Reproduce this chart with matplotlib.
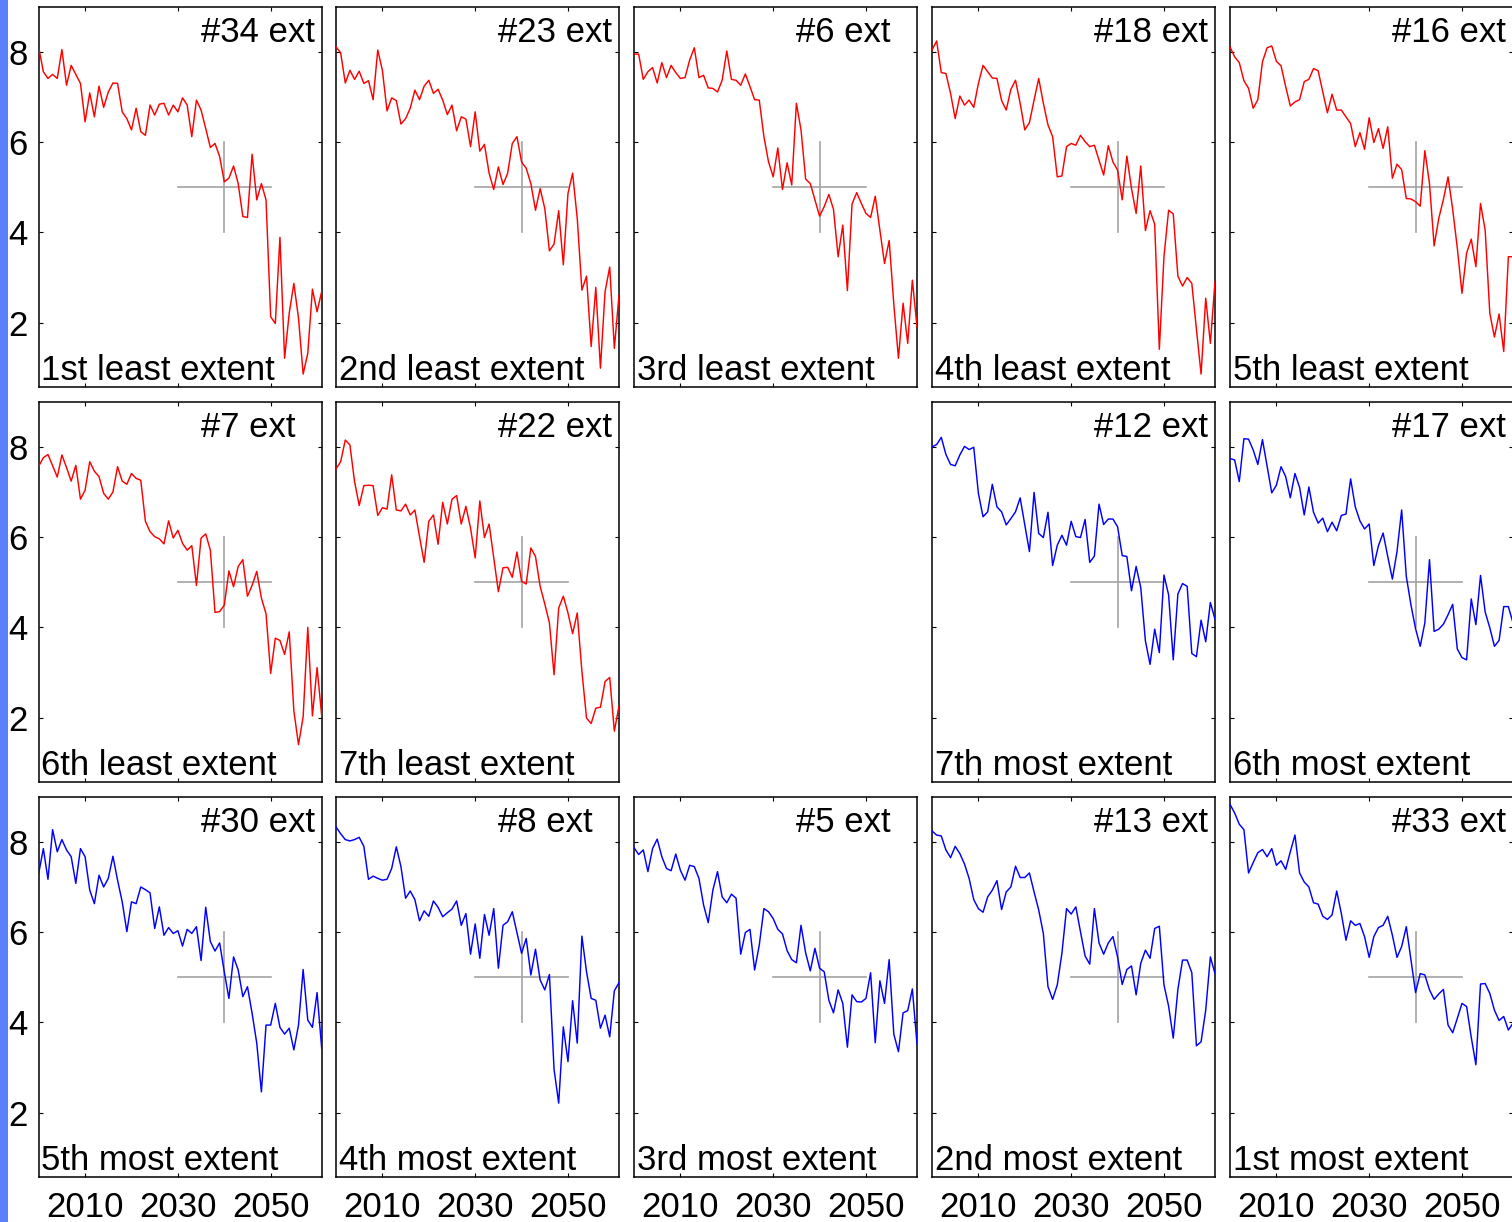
import numpy as np
import matplotlib
matplotlib.use("Agg")
import matplotlib.pyplot as plt
from matplotlib.patches import Rectangle

plt.rcParams['font.family'] = ['Liberation Sans', 'DejaVu Sans']

# ---------------- data ----------------
start_year = 2000
x_ticks = [2010, 2030, 2050]
y_ticks = [2, 4, 6, 8]

ext_34 = [8.10, 7.56, 7.41, 7.50, 7.41, 8.05, 7.26, 7.70, 7.50, 7.30,
          6.45, 7.09, 6.56, 7.24, 6.77, 7.11, 7.31, 7.30, 6.67, 6.52,
          6.27, 6.75, 6.23, 6.15, 6.82, 6.60, 6.84, 6.86, 6.60, 6.82,
          6.67, 6.98, 6.82, 6.12, 6.93, 6.71, 6.30, 5.88, 5.97, 5.68,
          5.12, 5.20, 5.47, 5.08, 4.35, 4.33, 5.73, 4.72, 5.08, 4.72,
          2.13, 1.98, 3.89, 1.21, 2.21, 2.87, 2.10, 0.86, 1.32, 2.74,
          2.24, 2.69]
ext_23 = [8.11, 7.98, 7.31, 7.59, 7.39, 7.57, 7.30, 7.36, 6.94, 8.04,
          7.59, 6.69, 6.98, 6.92, 6.40, 6.52, 6.75, 7.15, 6.94, 7.24,
          7.37, 7.08, 7.17, 6.93, 6.61, 6.82, 6.25, 6.56, 6.51, 5.90,
          6.67, 5.80, 5.95, 5.31, 4.95, 5.45, 5.06, 5.31, 5.97, 6.12,
          5.56, 5.42, 5.08, 4.49, 4.97, 4.53, 3.59, 3.74, 4.48, 3.28,
          4.86, 5.31, 4.31, 2.72, 3.03, 1.47, 2.78, 0.99, 2.69, 3.23,
          1.43, 2.61]
ext_6 = [7.95, 7.95, 7.39, 7.56, 7.65, 7.31, 7.76, 7.43, 7.70, 7.54,
         7.41, 7.43, 7.82, 8.09, 7.43, 7.48, 7.20, 7.19, 7.11, 7.37,
         8.02, 7.39, 7.37, 7.26, 7.51, 7.23, 6.94, 6.93, 6.12, 5.56,
         5.23, 5.87, 4.95, 5.54, 5.05, 6.86, 6.27, 5.18, 5.08, 4.72,
         4.36, 4.57, 4.84, 4.51, 3.46, 4.16, 2.71, 4.63, 4.88, 4.64,
         4.42, 4.33, 4.80, 4.05, 3.31, 3.82, 2.41, 1.21, 2.43, 1.54,
         2.94, 1.91]
ext_18 = [8.04, 8.24, 7.54, 7.52, 7.08, 6.52, 7.02, 6.82, 6.93, 6.77,
          7.30, 7.70, 7.56, 7.42, 7.41, 6.92, 6.71, 7.17, 7.37, 6.86,
          6.27, 6.43, 6.93, 7.41, 6.86, 6.38, 6.12, 5.23, 5.25, 5.90,
          5.97, 5.93, 6.15, 6.01, 5.90, 5.93, 5.60, 5.27, 5.92, 5.56,
          5.38, 4.72, 5.69, 4.97, 4.42, 5.47, 4.04, 4.48, 4.18, 1.41,
          3.46, 4.49, 4.41, 3.03, 2.81, 3.00, 2.87, 1.85, 0.86, 2.54,
          1.54, 2.91]
ext_16 = [8.11, 7.89, 7.76, 7.36, 7.19, 6.75, 6.94, 7.78, 8.09, 8.13,
          7.79, 7.69, 7.23, 6.80, 6.89, 6.94, 7.34, 7.39, 7.63, 7.58,
          7.11, 6.65, 7.06, 6.71, 6.71, 6.56, 6.41, 5.90, 6.21, 5.84,
          6.54, 5.99, 6.30, 5.86, 6.34, 5.20, 5.51, 5.39, 4.75, 4.74,
          4.68, 4.58, 5.81, 5.08, 3.70, 4.31, 4.73, 5.23, 4.51, 3.65,
          2.65, 3.54, 3.85, 3.24, 4.64, 4.05, 2.21, 1.68, 2.19, 1.36,
          3.46, 3.46]
ext_7 = [7.57, 7.76, 7.83, 7.58, 7.33, 7.82, 7.54, 7.24, 7.59, 6.84,
         7.04, 7.67, 7.46, 7.34, 6.97, 6.84, 7.00, 7.56, 7.24, 7.17,
         7.41, 7.30, 7.26, 6.35, 6.12, 6.01, 5.96, 5.85, 6.36, 5.98,
         6.15, 5.86, 5.71, 5.81, 4.93, 5.98, 6.07, 5.71, 4.33, 4.35,
         4.49, 5.25, 4.90, 5.35, 5.50, 4.69, 4.93, 5.24, 4.65, 4.30,
         2.98, 3.76, 3.71, 3.40, 3.90, 2.15, 1.40, 2.02, 4.00, 2.04,
         3.11, 2.04]
ext_22 = [7.51, 7.67, 8.15, 8.04, 7.23, 6.70, 7.14, 7.15, 7.14, 6.48,
          6.65, 6.62, 7.38, 6.60, 6.58, 6.73, 6.49, 6.60, 6.01, 5.44,
          6.35, 6.49, 5.84, 6.77, 6.29, 6.84, 6.92, 6.29, 6.68, 6.20,
          5.54, 6.80, 5.99, 6.29, 5.54, 4.79, 5.32, 5.33, 5.11, 5.67,
          5.02, 4.96, 5.76, 5.57, 4.91, 4.52, 4.10, 2.95, 4.43, 4.69,
          4.32, 3.86, 4.32, 3.03, 1.99, 1.87, 2.21, 2.23, 2.80, 2.89,
          1.70, 2.26]
ext_12 = [8.00, 8.05, 8.21, 7.83, 7.61, 7.58, 7.82, 8.01, 7.94, 7.99,
          6.97, 6.45, 6.56, 7.17, 6.67, 6.56, 6.27, 6.41, 6.56, 6.87,
          6.27, 5.68, 6.99, 6.08, 5.99, 6.55, 5.37, 5.82, 6.04, 5.82,
          6.35, 6.01, 5.99, 6.39, 5.44, 5.58, 6.73, 6.28, 6.40, 6.40,
          6.23, 5.59, 5.57, 4.81, 5.35, 4.88, 3.70, 3.18, 3.96, 3.44,
          5.16, 4.72, 3.28, 4.74, 4.97, 4.91, 3.42, 3.35, 4.16, 3.68,
          4.55, 4.18]
ext_17 = [7.74, 7.71, 7.23, 8.18, 8.17, 7.93, 7.61, 8.16, 7.57, 6.98,
          7.15, 7.56, 7.34, 6.87, 7.41, 7.10, 6.49, 7.11, 6.55, 6.31,
          6.42, 6.12, 6.33, 6.14, 6.48, 6.51, 7.29, 6.67, 6.36, 6.18,
          6.29, 5.37, 5.81, 6.09, 5.57, 5.07, 5.68, 6.60, 5.13, 4.50,
          3.97, 3.58, 4.10, 5.50, 3.91, 3.96, 4.07, 4.28, 4.51, 3.52,
          3.33, 3.28, 4.63, 4.06, 5.15, 4.34, 3.99, 3.58, 3.71, 4.46,
          4.46, 4.10]
ext_30 = [7.30, 7.85, 7.17, 8.27, 7.78, 8.05, 7.82, 7.67, 7.08, 7.85,
          7.67, 6.93, 6.63, 7.26, 7.00, 7.19, 7.68, 7.15, 6.67, 6.01,
          6.67, 6.63, 7.00, 6.94, 6.87, 6.08, 6.56, 5.93, 6.10, 5.97,
          6.03, 5.69, 6.06, 5.97, 6.12, 5.37, 6.55, 5.79, 5.58, 5.76,
          5.12, 4.53, 5.45, 5.16, 4.57, 4.79, 4.20, 3.54, 2.46, 3.94,
          3.94, 4.42, 3.89, 3.74, 3.87, 3.39, 3.94, 5.17, 4.05, 3.89,
          4.66, 3.42]
ext_8 = [8.33, 8.18, 8.05, 8.02, 8.05, 8.10, 7.90, 7.17, 7.24, 7.19,
         7.15, 7.17, 7.41, 7.89, 7.45, 6.75, 6.91, 6.72, 6.25, 6.47,
         6.35, 6.69, 6.55, 6.34, 6.43, 6.51, 6.69, 6.15, 6.41, 5.51,
         6.18, 5.42, 6.39, 5.93, 6.52, 5.20, 6.15, 6.23, 6.45, 5.99,
         5.53, 5.86, 5.05, 5.62, 4.94, 4.72, 5.06, 2.96, 2.21, 3.90,
         3.13, 4.48, 3.54, 5.91, 5.12, 4.53, 4.49, 3.87, 4.16, 3.68,
         4.70, 4.88]
ext_5 = [7.87, 7.72, 7.82, 7.34, 7.85, 8.06, 7.67, 7.41, 7.36, 7.73,
         7.37, 7.15, 7.48, 7.45, 7.19, 6.60, 6.21, 6.93, 7.34, 6.78,
         6.65, 6.84, 6.75, 5.51, 5.99, 6.06, 5.16, 5.71, 6.52, 6.45,
         6.30, 6.06, 5.96, 5.59, 5.39, 5.32, 6.15, 5.54, 5.14, 5.64,
         5.20, 5.12, 4.49, 4.21, 4.72, 4.42, 3.45, 4.61, 4.46, 4.45,
         4.53, 5.10, 3.55, 4.92, 4.42, 5.39, 3.74, 3.35, 4.21, 4.26,
         4.74, 3.52]
ext_13 = [8.24, 8.15, 8.13, 7.82, 7.65, 7.90, 7.74, 7.51, 7.19, 6.72,
          6.52, 6.44, 6.78, 6.93, 7.14, 6.50, 6.89, 7.00, 7.46, 7.21,
          7.21, 7.31, 6.89, 6.49, 5.97, 4.79, 4.51, 4.83, 5.53, 6.52,
          6.40, 6.56, 6.01, 5.47, 5.29, 6.52, 5.76, 5.51, 5.76, 5.90,
          5.45, 4.84, 5.17, 5.25, 4.61, 5.31, 5.60, 5.42, 6.08, 6.13,
          4.83, 4.36, 3.65, 4.73, 5.38, 5.38, 5.10, 3.48, 3.57, 4.27,
          5.45, 5.08]
ext_33 = [8.83, 8.64, 8.39, 8.27, 7.31, 7.54, 7.76, 7.83, 7.67, 7.85,
          7.48, 7.58, 7.39, 7.78, 8.15, 7.31, 7.11, 7.00, 6.65, 6.62,
          6.35, 6.28, 6.38, 6.91, 6.41, 5.82, 6.25, 6.15, 6.19, 5.90,
          5.44, 5.90, 6.10, 6.15, 6.35, 5.93, 5.44, 5.68, 6.12, 5.39,
          4.66, 5.08, 5.05, 4.72, 4.51, 4.63, 4.73, 3.94, 3.77, 4.09,
          4.42, 4.35, 3.67, 3.06, 4.85, 4.86, 4.64, 4.27, 4.04, 4.13,
          3.83, 3.98]

# (row, col, top label, bottom label, series, colour)
panels = [
    (0, 0, '#34 ext', '1st least extent', ext_34, 'red'),
    (0, 1, '#23 ext', '2nd least extent', ext_23, 'red'),
    (0, 2, '#6 ext', '3rd least extent', ext_6, 'red'),
    (0, 3, '#18 ext', '4th least extent', ext_18, 'red'),
    (0, 4, '#16 ext', '5th least extent', ext_16, 'red'),
    (1, 0, '#7 ext', '6th least extent', ext_7, 'red'),
    (1, 1, '#22 ext', '7th least extent', ext_22, 'red'),
    (1, 3, '#12 ext', '7th most extent', ext_12, 'blue'),
    (1, 4, '#17 ext', '6th most extent', ext_17, 'blue'),
    (2, 0, '#30 ext', '5th most extent', ext_30, 'blue'),
    (2, 1, '#8 ext', '4th most extent', ext_8, 'blue'),
    (2, 2, '#5 ext', '3rd most extent', ext_5, 'blue'),
    (2, 3, '#13 ext', '2nd most extent', ext_13, 'blue'),
    (2, 4, '#33 ext', '1st most extent', ext_33, 'blue'),
]

# ---------------- layout ----------------
W, H = 1512, 1222
fig = plt.figure(figsize=(W / 100, H / 100), dpi=100)
fig.patch.set_facecolor('white')

col_left = [38.7, 336, 634, 932, 1230]
row_top = [6.7, 401.7, 796.7]
ax_w, ax_h = 283, 380
XLIM = (2000, 2061)
YLIM = (0.58, 9.0)
FS = 25

for r, c, top_lbl, bot_lbl, vals, col in panels:
    left = col_left[c] / W
    bottom = 1 - (row_top[r] + ax_h) / H
    ax = fig.add_axes([left, bottom, ax_w / W, ax_h / H])
    yrs = np.arange(start_year, start_year + len(vals))
    ax.plot(yrs, vals, color=col, lw=1.05, zorder=3)
    # cross-hair marker at 2040 / 5
    ax.plot([2030, 2050], [5, 5], color='#a3a3a3', lw=1.2, zorder=2)
    ax.plot([2040, 2040], [4, 6], color='#a3a3a3', lw=1.2, zorder=2)
    ax.set_xlim(*XLIM)
    ax.set_ylim(*YLIM)
    ax.set_xticks(x_ticks)
    ax.set_yticks(y_ticks)
    ax.tick_params(direction='in', length=3, width=0.8, top=True, right=True,
                   labelsize=FS, colors='black')
    ax.tick_params(axis='x', pad=10.5)
    ax.tick_params(axis='y', pad=8)
    if c != 0:
        ax.set_yticklabels([])
    if r != 2:
        ax.set_xticklabels([])
    for s in ax.spines.values():
        s.set_linewidth(1.1)
        s.set_color('black')
    ax.text(2035, 8.225, top_lbl, fontsize=FS, ha='left', va='baseline', zorder=5)
    ax.text(2000.6, 0.728, bot_lbl, fontsize=FS, ha='left', va='baseline', zorder=5)

# blue strip on the left edge
fig.add_artist(Rectangle((0, 0), 8.3 / W, 1, transform=fig.transFigure,
                         facecolor='#5b80fa', edgecolor='none', zorder=0))

fig.savefig('out.png', dpi=100)
